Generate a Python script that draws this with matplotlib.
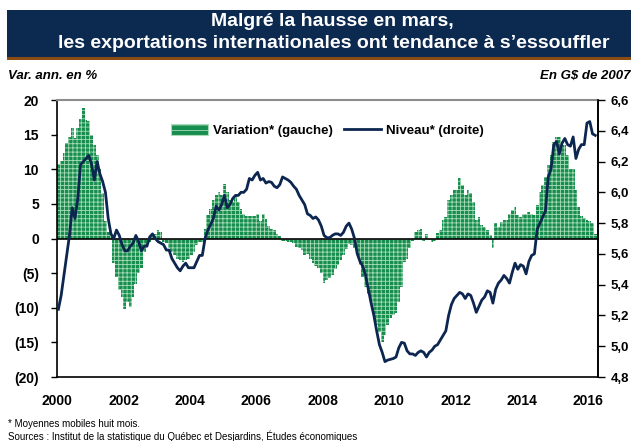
import matplotlib
matplotlib.use("Agg")
import matplotlib.pyplot as plt
from matplotlib.patches import Rectangle, Patch
from matplotlib.lines import Line2D
import numpy as np

# Monthly data, Jan 2000 -> Mar 2016
variation = [
    10.8, 11.2, 12.3, 13.8, 14.6, 15.9, 14.5, 16.0, 17.3, 18.9,
    17.1, 16.9, 15.0, 13.5, 12.0, 10.0, 6.5, 2.5, 1.0, 0.3,
    -3.5, -5.5, -7.5, -8.5, -10.2, -9.2, -9.9, -8.4, -6.5, -5.0,
    -4.2, -2.0, -1.2, -0.5, 0.3, 0.6, 1.2, 1.0, -0.5, -0.7,
    -1.4, -1.9, -2.4, -2.9, -3.1, -3.4, -3.1, -2.9, -2.4, -1.9,
    -1.0, -0.5, -0.5, 1.4, 3.4, 4.3, 5.5, 6.3, 6.7, 6.3,
    7.9, 6.7, 5.5, 5.3, 6.3, 5.3, 4.2, 3.5, 3.3, 3.3,
    3.3, 3.3, 3.5, 2.5, 3.5, 2.8, 1.8, 1.4, 1.2, 0.6,
    0.4, -0.3, -0.3, -0.5, -0.5, -0.7, -1.2, -1.4, -1.6, -2.4,
    -2.3, -3.0, -3.5, -3.9, -4.3, -5.0, -6.4, -6.0, -5.7, -5.3,
    -4.4, -3.8, -3.1, -2.4, -1.5, -0.8, -1.0, -1.3, -2.4, -3.8,
    -5.5, -7.0, -8.0, -9.5, -11.0, -12.5, -13.5, -15.0, -14.0, -12.5,
    -11.5, -11.0, -10.8, -9.1, -7.0, -3.4, -2.9, -1.4, -0.3, 1.0,
    1.2, 1.3, -0.3, 0.6, -0.2, -0.5, -0.4, 0.8, 1.2, 2.6,
    3.1, 5.5, 6.3, 7.0, 7.0, 8.7, 7.7, 6.3, 7.0, 6.5,
    5.3, 2.6, 3.1, 1.9, 1.7, 1.2, 0.5, -1.4, 2.2, 1.7,
    2.4, 2.6, 2.6, 3.6, 4.1, 4.6, 3.4, 3.1, 3.6, 3.6,
    3.8, 3.6, 3.4, 4.8, 6.7, 7.7, 8.9, 10.6, 12.0, 14.0,
    14.7, 14.7, 13.5, 13.5, 12.0, 10.1, 10.1, 7.0, 4.5, 3.3,
    2.9, 2.7, 2.5, 2.2, 0.7,
]

niveau = [
    5.24, 5.33, 5.46, 5.59, 5.72, 5.90, 5.83, 5.96, 6.18, 6.20,
    6.22, 6.24, 6.18, 6.08, 6.20, 6.12, 6.07, 6.00, 5.83, 5.73,
    5.70, 5.755, 5.72, 5.66, 5.62, 5.62, 5.65, 5.67, 5.72, 5.68,
    5.62, 5.65, 5.65, 5.71, 5.73, 5.70, 5.68, 5.67, 5.66, 5.625,
    5.625, 5.57, 5.54, 5.51, 5.49, 5.52, 5.54, 5.51, 5.51, 5.51,
    5.55, 5.59, 5.59, 5.70, 5.755, 5.79, 5.83, 5.91, 5.885, 5.92,
    5.98, 5.90, 5.92, 5.96, 5.98, 5.98, 6.00, 6.00, 6.02, 6.09,
    6.08, 6.11, 6.13, 6.08, 6.09, 6.06, 6.07, 6.065, 6.04, 6.03,
    6.05, 6.10, 6.09, 6.08, 6.065, 6.04, 6.02, 5.98, 5.95, 5.92,
    5.86, 5.85, 5.83, 5.84, 5.82, 5.78, 5.72, 5.705, 5.705, 5.72,
    5.73, 5.73, 5.72, 5.74, 5.78, 5.80, 5.76, 5.70, 5.60, 5.55,
    5.52, 5.46, 5.37, 5.28, 5.20, 5.10, 5.01, 4.96, 4.90, 4.91,
    4.915, 4.92, 4.93, 4.99, 5.025, 5.02, 4.97, 4.95, 4.95, 4.94,
    4.96, 4.97, 4.96, 4.93, 4.96, 4.975, 5.00, 5.01, 5.04, 5.07,
    5.10, 5.20, 5.27, 5.31, 5.33, 5.35, 5.34, 5.31, 5.34, 5.33,
    5.28, 5.22, 5.26, 5.30, 5.32, 5.36, 5.35, 5.28, 5.37, 5.41,
    5.43, 5.46, 5.44, 5.41, 5.48, 5.54, 5.50, 5.53, 5.52, 5.47,
    5.55, 5.59, 5.60, 5.76, 5.80, 5.84, 5.88, 6.10, 6.15, 6.31,
    6.33, 6.25, 6.32, 6.35, 6.31, 6.30, 6.36, 6.22, 6.28, 6.31,
    6.31, 6.45, 6.46, 6.38, 6.37,
]

start_year = 2000
x_ticks = [2000, 2002, 2004, 2006, 2008, 2010, 2012, 2014, 2016]
left_ticks = [20, 15, 10, 5, 0, -5, -10, -15, -20]
left_labels = ["20", "15", "10", "5", "0", "(5)", "(10)", "(15)", "(20)"]
right_ticks = [4.8, 5.0, 5.2, 5.4, 5.6, 5.8, 6.0, 6.2, 6.4, 6.6]
right_labels = ["4,8", "5,0", "5,2", "5,4", "5,6", "5,8", "6,0", "6,2", "6,4", "6,6"]

title_l1 = "Malgré la hausse en mars,"
title_l2 = "les exportations internationales ont tendance à s\u2019essouffler"
left_unit = "Var. ann. en %"
right_unit = "En G$ de 2007"
note1 = "* Moyennes mobiles huit mois."
note2 = "Sources : Institut de la statistique du Québec et Desjardins, Études économiques"
leg_bar = "Variation* (gauche)"
leg_line = "Niveau* (droite)"

plt.rcParams['font.family'] = ['Liberation Sans', 'DejaVu Sans']
plt.rcParams['hatch.linewidth'] = 0.6

W, H = 631, 441
fig = plt.figure(figsize=(W / 100, H / 100), dpi=100)

navy = "#0c2a50"
green = "#178d4e"
hatch_c = "#a8dcb9"
line_c = "#0d2650"

# Title banner
fig.add_artist(Rectangle((7 / W, 1 - 57 / H), 1 - 7 / W, 47 / H,
                         transform=fig.transFigure, facecolor=navy, edgecolor='none'))
fig.add_artist(Rectangle((7 / W, 1 - 60 / H), 1 - 7 / W, 3 / H,
                         transform=fig.transFigure, facecolor="#8a4b14", edgecolor='none'))
fig.text(332 / W, 1 - 22 / H, title_l1, color='white', fontsize=14, fontweight='bold',
         ha='center', va='center')
fig.text(334 / W, 1 - 44 / H, title_l2, color='white', fontsize=14, fontweight='bold',
         ha='center', va='center')

fig.text(8 / W, 1 - 76 / H, left_unit, fontsize=9.5, fontweight='bold', fontstyle='italic',
         ha='left', va='center')
fig.text(630 / W, 1 - 76 / H, right_unit, fontsize=9.5, fontweight='bold', fontstyle='italic',
         ha='right', va='center')

fig.text(8 / W, 1 - 424 / H, note1, fontsize=7, ha='left', va='center')
fig.text(8 / W, 1 - 436 / H, note2, fontsize=7, ha='left', va='center')

ax = fig.add_axes([57 / W, 1 - 377 / H, (598 - 57) / W, (377 - 100) / H])
n = len(variation)
xs = start_year + np.arange(n) / 12.0
ax.bar(xs, variation, width=1 / 12.0, align='edge', color=green, edgecolor=hatch_c,
       linewidth=0, hatch='++++', zorder=2)
ax.axhline(0, color='black', linewidth=1.2, zorder=3)
ax.set_xlim(2000, 2016.29)
ax.set_ylim(-20, 20)
ax.set_yticks(left_ticks)
ax.set_yticklabels(left_labels)
ax.set_xticks(x_ticks)
ax.set_xticklabels([str(t) for t in x_ticks])
ax.tick_params(axis='y', direction='out', length=4, width=1, pad=9, labelsize=10)
ax.tick_params(axis='x', length=0, pad=12, labelsize=10)
for lab in ax.get_xticklabels() + ax.get_yticklabels():
    lab.set_fontweight('bold')
ax.spines['top'].set_color('#8c8c8c')
ax.spines['top'].set_linewidth(1.5)
for s in ['left', 'bottom', 'right']:
    ax.spines[s].set_color('black')
    ax.spines[s].set_linewidth(1.2)

ax2 = ax.twinx()
ax2.plot(xs + 0.5 / 12.0, niveau, color=line_c, linewidth=2.0, zorder=4)
ax2.set_ylim(4.8, 6.6)
ax2.set_yticks(right_ticks)
ax2.set_yticklabels(right_labels)
ax2.tick_params(axis='y', direction='out', length=5, width=1, pad=4, labelsize=9.5)
for lab in ax2.get_yticklabels():
    lab.set_fontweight('bold')
ax2.spines['top'].set_visible(False)
ax2.spines['left'].set_visible(False)
ax2.spines['bottom'].set_visible(False)
ax2.spines['right'].set_color('black')
ax2.spines['right'].set_linewidth(1.2)

handles = [Patch(facecolor=green, edgecolor=hatch_c, hatch='---', linewidth=0.8),
           Line2D([0], [0], color=line_c, linewidth=2.0)]
leg = ax2.legend(handles, [leg_bar, leg_line], loc='center', bbox_to_anchor=(0.5, 0.89),
                 ncol=2, frameon=False, prop={'weight': 'bold', 'size': 9.5},
                 handlelength=2.8, handleheight=0.9, columnspacing=0.8, handletextpad=0.4)

fig.savefig("out.png", dpi=100)
